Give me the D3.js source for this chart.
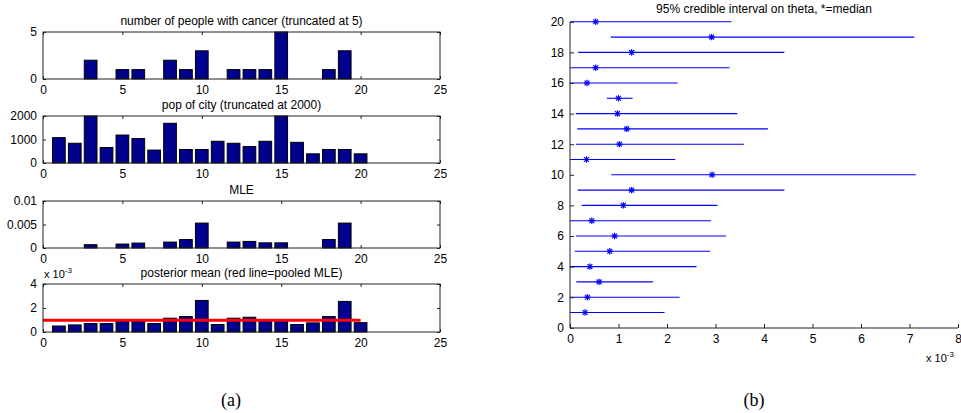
<!DOCTYPE html>
<html>
<head>
<meta charset="utf-8">
<script src="https://cdn.jsdelivr.net/npm/d3@7"></script>
<style>
html,body{margin:0;padding:0;background:#fff;}
svg{display:block;}
text{font-family:"Liberation Sans",Arial,Helvetica,sans-serif;}
</style>
</head>
<body>
<svg id="chart" width="961" height="413"></svg>
<script>
// ---------------- data ----------------
const cities = [1,2,3,4,5,6,7,8,9,10,11,12,13,14,15,16,17,18,19,20];
const cancerCounts = [0,0,2,0,1,1,0,2,1,3,0,1,1,1,5,0,0,1,3,0];
const cityPop = [1080,840,2000,660,1190,1040,550,1690,575,575,925,840,700,925,2000,880,390,575,575,390];
const mleValues = [0,0,0.0007,0,0.00084,0.00105,0,0.00126,0.0018,0.0053,0,0.00126,0.0014,0.0011,0.0011,0,0,0.0018,0.0053,0];
const posteriorMean = [0.00050,0.00059,0.00070,0.00070,0.00092,0.00092,0.00070,0.00115,0.00129,0.00263,0.00062,0.00115,0.00123,0.00095,0.00095,0.00062,0.00076,0.00129,0.00255,0.00078];
const pooledMLE = 0.00098;
const pooledRange = [0, 20];
const ciLow  = [0,0,0.00013,0,0.00010,0.00012,0,0.00024,0.00016,0.00085,0,0.00012,0.00015,0.00012,0.00076,0,0,0.00017,0.00084,0];
const ciHigh = [0.00195,0.00226,0.00171,0.00261,0.00289,0.00322,0.00291,0.00304,0.00442,0.00713,0.00217,0.00359,0.00408,0.00345,0.00129,0.00222,0.00329,0.00442,0.00710,0.00333];
const ciMedian = [0.00031,0.00036,0.00060,0.00041,0.00082,0.00092,0.00045,0.00110,0.00127,0.00293,0.00034,0.00102,0.00117,0.00098,0.00100,0.00035,0.00053,0.00127,0.00292,0.00053];
const xTicksLeft = [0,5,10,15,20,25];
const xTicksRight = [0,0.001,0.002,0.003,0.004,0.005,0.006,0.007,0.008];
const yTicksRight = [0,2,4,6,8,10,12,14,16,18,20];

const panels = [
  {title:"number of people with cancer (truncated at 5)", values:cancerCounts, domain:[0,5], ticks:[0,5], fmt:d=>String(d)},
  {title:"pop of city (truncated at 2000)", values:cityPop, domain:[0,2000], ticks:[0,1000,2000], fmt:d=>String(d)},
  {title:"MLE", values:mleValues, domain:[0,0.01], ticks:[0,0.005,0.01], fmt:d=>String(d)},
  {title:"posterior mean (red line=pooled MLE)", values:posteriorMean, domain:[0,0.004], ticks:[0,0.002,0.004], fmt:d=>String(Math.round(d*1000)), exp:true}
];

// ---------------- drawing ----------------
const svg = d3.select("#chart");
const axisColor = "#222";
const barFill = "#00008f";
const fontSize = 12;

const xL = d3.scaleLinear().domain([0,25]).range([43,440]);
const panelY = [[79,32],[163,116],[248,201],[332,284]];

function styleAxis(g){
  g.selectAll(".domain").remove();
  g.selectAll(".tick line").attr("stroke",axisColor);
  g.selectAll(".tick text").attr("fill","#000").style("font-size",fontSize+"px")
   .style("font-family","'Liberation Sans',Arial,sans-serif");
}

panels.forEach((p,i)=>{
  const y = d3.scaleLinear().domain(p.domain).range(panelY[i]);
  const g = svg.append("g");
  // bars
  const bw = xL(0.8)-xL(0);
  g.selectAll("rect.bar").data(cities.map((c,k)=>({c, v:p.values[k]})).filter(d=>d.v>0))
    .enter().append("rect")
    .attr("x",d=>xL(d.c)-bw/2).attr("width",bw)
    .attr("y",d=>y(Math.min(d.v,p.domain[1]))).attr("height",d=>y(0)-y(Math.min(d.v,p.domain[1])))
    .attr("fill",barFill).attr("stroke","#000").attr("stroke-width",1);
  if(p.exp){
    g.append("line")
      .attr("x1",xL(pooledRange[0])).attr("x2",xL(pooledRange[1]))
      .attr("y1",y(pooledMLE)).attr("y2",y(pooledMLE))
      .attr("stroke","#ff0000").attr("stroke-width",3);
    const t = g.append("text").attr("x",44).attr("y",panelY[i][1]-6).style("font-size","11px").attr("fill","#000");
    t.append("tspan").text("x 10");
    t.append("tspan").attr("dy",-5).style("font-size","8px").text("-3");
  }
  // axes
  const bottom = g.append("g").attr("transform",`translate(0,${panelY[i][0]})`)
    .call(d3.axisBottom(xL).tickValues(xTicksLeft).tickSizeInner(-3).tickSizeOuter(0).tickPadding(6));
  styleAxis(bottom);
  const top = g.append("g").attr("transform",`translate(0,${panelY[i][1]})`)
    .call(d3.axisTop(xL).tickValues(xTicksLeft).tickSizeInner(-3).tickSizeOuter(0).tickFormat(""));
  styleAxis(top);
  const left = g.append("g").attr("transform",`translate(${xL(0)},0)`)
    .call(d3.axisLeft(y).tickValues(p.ticks).tickSizeInner(-3).tickSizeOuter(0).tickPadding(6).tickFormat(p.fmt));
  styleAxis(left);
  const right = g.append("g").attr("transform",`translate(${xL(25)},0)`)
    .call(d3.axisRight(y).tickValues(p.ticks).tickSizeInner(-3).tickSizeOuter(0).tickFormat(""));
  styleAxis(right);
  g.append("rect").attr("x",xL(0)).attr("y",panelY[i][1]).attr("width",xL(25)-xL(0)).attr("height",panelY[i][0]-panelY[i][1])
    .attr("fill","none").attr("stroke",axisColor).attr("stroke-width",1);
  g.append("text").attr("x",(xL(0)+xL(25))/2).attr("y",panelY[i][1]-7).attr("text-anchor","middle")
    .style("font-size",fontSize+"px").attr("fill","#000").text(p.title);
});

// ---------------- right panel ----------------
const xR = d3.scaleLinear().domain([0,0.008]).range([570,958]);
const yR = d3.scaleLinear().domain([0,20]).range([327.8,21.8]);
const gr = svg.append("g");
const rows = cities.map((c,k)=>({c, lo:ciLow[k], hi:ciHigh[k], med:ciMedian[k]}));
gr.selectAll("line.ci").data(rows).enter().append("line")
  .attr("x1",d=>xR(d.lo)).attr("x2",d=>xR(d.hi))
  .attr("y1",d=>yR(d.c)).attr("y2",d=>yR(d.c))
  .attr("stroke","#0000ff").attr("stroke-width",1.1);
const s = 3.2;
const star = gr.selectAll("g.star").data(rows).enter().append("g")
  .attr("transform",d=>`translate(${xR(d.med)},${yR(d.c)})`)
  .attr("stroke","#0000ff").attr("stroke-width",1.2);
star.append("line").attr("x1",-s).attr("x2",s).attr("y1",0).attr("y2",0);
star.append("line").attr("x1",0).attr("x2",0).attr("y1",-s).attr("y2",s);
star.append("line").attr("x1",-s*0.75).attr("x2",s*0.75).attr("y1",-s*0.75).attr("y2",s*0.75);
star.append("line").attr("x1",-s*0.75).attr("x2",s*0.75).attr("y1",s*0.75).attr("y2",-s*0.75);

const bx = gr.append("g").attr("transform","translate(0,328)")
  .call(d3.axisBottom(xR).tickValues(xTicksRight).tickSizeInner(-4).tickSizeOuter(0).tickPadding(6).tickFormat(d=>String(Math.round(d*1000))));
styleAxis(bx);
const ly = gr.append("g").attr("transform","translate(570,0)")
  .call(d3.axisLeft(yR).tickValues(yTicksRight).tickSizeInner(-4).tickSizeOuter(0).tickPadding(6));
styleAxis(ly);
gr.append("line").attr("x1",570).attr("x2",958).attr("y1",328).attr("y2",328).attr("stroke",axisColor);
gr.append("line").attr("x1",570).attr("x2",570).attr("y1",22).attr("y2",328).attr("stroke",axisColor);
gr.append("text").attr("x",764).attr("y",13).attr("text-anchor","middle").style("font-size",fontSize+"px").attr("fill","#000")
  .text("95% credible interval on theta, *=median");
const tx = gr.append("text").attr("x",926).attr("y",362).style("font-size","11px").attr("fill","#000");
tx.append("tspan").text("x 10");
tx.append("tspan").attr("dy",-5).style("font-size","8px").text("-3");

// captions
svg.append("text").attr("x",231).attr("y",406).attr("text-anchor","middle")
  .style("font-family","'Liberation Serif','Times New Roman',serif").style("font-size","18px").text("(a)");
svg.append("text").attr("x",754).attr("y",406).attr("text-anchor","middle")
  .style("font-family","'Liberation Serif','Times New Roman',serif").style("font-size","18px").text("(b)");
</script>
</body>
</html>
